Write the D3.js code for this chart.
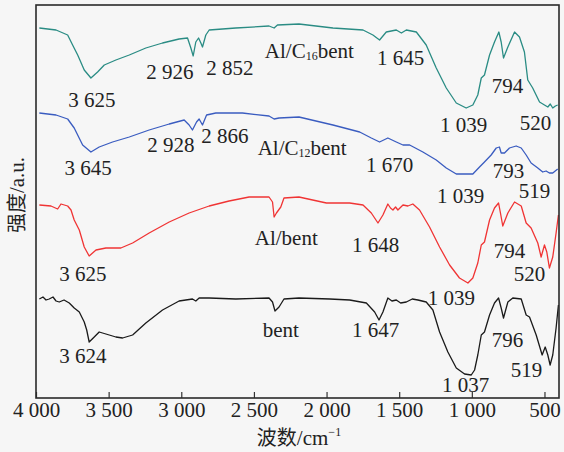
<!DOCTYPE html>
<html>
<head>
<meta charset="utf-8">
<script src="https://cdn.jsdelivr.net/npm/d3@7"></script>
<style>
  body { margin: 0; background: #f6f6f6; }
  svg { display: block; }
  svg text { font-family: "Liberation Serif", "Times New Roman", serif; fill: #222; }
</style>
</head>
<body>
<svg id="ftir_svg" width="564" height="452"></svg>
<script>
// spectra: [wavenumber (cm-1), intensity (a.u.)]
const c16bent = [
  [3977,370],[3862,368],[3782,363],[3748,353],[3713,343],[3668,328],[3622,320],[3576,326],
  [3530,333],[3450,338],[3358,343],[3244,350],[3129,355],[3015,359],[2957,360],[2934,350],
  [2918,342],[2900,356],[2881,360],[2865,355],[2854,351],[2831,363],[2808,368],[2625,370],
  [2396,372],[2361,370],[2338,373],[2190,374],[1956,370],[1749,368],[1681,363],[1635,358],
  [1589,366],[1520,368],[1485,365],[1451,368],[1382,366],[1314,353],[1245,330],[1176,310],
  [1107,295],[1039,290],[993,293],[959,303],[935,320],[913,323],[878,343],[844,356],
  [814,366],[798,356],[782,340],[752,351],[706,366],[672,361],[638,346],[615,318],
  [581,310],[534,296],[500,293],[477,291],[460,294],[443,290],[425,292],[409,293]
];
const c12bent = [
  [3977,285],[3862,283],[3782,279],[3737,270],[3679,253],[3622,246],[3565,251],[3473,256],
  [3358,261],[3221,268],[3083,274],[2980,278],[2946,273],[2923,268],[2895,276],[2877,279],
  [2854,273],[2826,283],[2762,285],[2579,285],[2396,282],[2361,279],[2327,280],[2190,281],
  [1956,273],[1772,266],[1692,260],[1635,256],[1578,260],[1520,256],[1474,253],[1428,253],
  [1337,246],[1245,238],[1176,230],[1107,224],[993,224],[947,231],[913,236],[867,243],
  [832,250],[810,251],[798,245],[775,245],[741,250],[695,252],[660,250],[626,243],
  [592,235],[546,230],[512,226],[489,227],[466,225],[443,225],[409,229]
];
const albent = [
  [3977,193],[3897,192],[3851,189],[3828,194],[3782,192],[3759,188],[3737,178],[3702,168],
  [3668,151],[3634,142],[3587,148],[3519,150],[3416,150],[3335,155],[3221,165],[3083,176],
  [2946,185],[2808,192],[2671,197],[2533,201],[2396,201],[2372,196],[2361,181],[2345,185],
  [2315,191],[2293,200],[2190,201],[2001,195],[1841,195],[1749,193],[1692,185],[1646,175],
  [1612,183],[1578,194],[1560,190],[1543,188],[1525,191],[1509,188],[1474,193],[1440,192],
  [1406,194],[1360,188],[1291,171],[1222,151],[1153,133],[1085,120],[1027,115],[993,120],
  [959,135],[935,153],[913,156],[878,178],[844,190],[816,195],[803,185],[787,172],
  [752,185],[706,196],[660,192],[626,175],[592,170],[546,155],[523,141],[500,153],
  [484,146],[466,130],[443,141],[420,165],[404,183]
];
const bent = [
  [3977,99],[3952,101],[3931,98],[3909,99],[3883,101],[3862,97],[3840,96],[3807,98],
  [3771,95],[3737,90],[3702,86],[3668,76],[3651,68],[3634,56],[3599,61],[3565,66],
  [3519,64],[3450,61],[3404,60],[3335,63],[3244,75],[3129,88],[3015,97],[2923,99],
  [2900,97],[2877,100],[2808,100],[2625,99],[2396,100],[2372,96],[2355,87],[2327,91],
  [2293,99],[2190,100],[1978,99],[1841,98],[1726,95],[1669,86],[1639,78],[1612,86],
  [1578,100],[1550,97],[1520,98],[1490,95],[1451,96],[1410,99],[1371,98],[1314,96],
  [1268,88],[1222,66],[1165,46],[1107,30],[1050,24],[1004,23],[981,28],[959,43],
  [935,63],[913,66],[878,83],[844,95],[816,100],[798,90],[782,80],[752,96],
  [718,100],[660,99],[626,83],[603,81],[557,63],[516,43],[495,51],[477,43],
  [461,33],[443,43],[420,70],[404,93]
];

const seriesColors = ["#2a8c84", "#3a5cc0", "#f03434", "#1a1a1a"];
const xTicks = [4000, 3500, 3000, 2500, 2000, 1500, 1000, 500];

// peak labels: [text, wavenumber, intensity]
const peakLabels = [
  ["3 625",3615,291],["2 926",3079,319],["2 852",2666,323],["1 645",1490,333],
  ["1 039",1057,266],["794",755,305],["520",562,268],
  ["3 645",3642,223],["2 928",3072,246],["2 866",2700,255],["1 670",1566,226],
  ["1 039",1078,195],["793",748,220],["519",569,200],
  ["3 625",3677,117],["1 648",1662,146],["1 039",1140,93],["794",741,140],["520",603,117],
  ["3 624",3677,35],["1 647",1662,61],["796",755,51],["1 037",1043,6],["519",624,21]
];
// sample names: [main, subscript, rest, wavenumber, intensity]
const sampleLabels = [
  ["Al/C", "16", "bent", 2425, 340],
  ["Al/C", "12", "bent", 2474, 243],
  ["Al/bent", "", "", 2494, 153],
  ["bent", "", "", 2439, 61]
];

const margin = { top: 5, bottom: 54, left: 36, right: 5 };
const fontSize = 21;

document.addEventListener('DOMContentLoaded', function () {
  drawChart();
});

function drawChart() {
  var svg = d3.select('#ftir_svg');
  const width = +svg.attr('width');
  const height = +svg.attr('height');
  const innerWidth = width - margin.left - margin.right;
  const innerHeight = height - margin.top - margin.bottom;

  const g = svg.append('g')
    .attr('transform', 'translate(' + margin.left + ',' + margin.top + ')');

  var x = d3.scaleLinear().domain([4000, 400]).range([0, innerWidth]);
  var y = d3.scaleLinear().domain([0, 393]).range([innerHeight, 0]);

  // curves
  const line = d3.line()
    .x(function(d) { return x(d[0]) })
    .y(function(d) { return y(d[1]) });

  [c16bent, c12bent, albent, bent].forEach(function(s, i) {
    g.append('path')
      .datum(s)
      .attr('fill', 'none')
      .attr('stroke', seriesColors[i])
      .attr('stroke-width', 1.3)
      .attr('stroke-linejoin', 'round')
      .attr('d', line);
  });

  // x axis, ticks pointing inward
  const xAxis = g.append('g')
    .attr('transform', 'translate(0,' + innerHeight + ')')
    .call(d3.axisBottom(x)
      .tickValues(xTicks)
      .tickSizeInner(-6)
      .tickSizeOuter(0)
      .tickPadding(4)
      .tickFormat(function(d) {
        return d >= 1000 ? Math.floor(d / 1000) + ' ' + d3.format('03d')(d % 1000) : d;
      }));
  xAxis.attr('font-family', null);
  xAxis.select('.domain').remove();
  xAxis.selectAll('line').attr('stroke', '#333').attr('stroke-width', 1.2);
  xAxis.selectAll('text')
    .attr('font-size', fontSize)
    .attr('fill', '#222');

  // frame
  g.append('rect')
    .attr('x', 0).attr('y', 0)
    .attr('width', innerWidth).attr('height', innerHeight)
    .attr('fill', 'none')
    .attr('stroke', '#2a2a2a')
    .attr('stroke-width', 1.6);

  // peak labels
  g.selectAll('.peak')
    .data(peakLabels)
    .enter().append('text')
    .attr('class', 'peak')
    .attr('x', function(d) { return x(d[1]) })
    .attr('y', function(d) { return y(d[2]) })
    .attr('text-anchor', 'middle')
    .attr('font-size', fontSize)
    .text(function(d) { return d[0] });

  // sample names
  sampleLabels.forEach(function(d) {
    const t = g.append('text')
      .attr('x', x(d[3]))
      .attr('y', y(d[4]))
      .attr('font-size', fontSize);
    t.append('tspan').text(d[0]);
    if (d[1]) {
      t.append('tspan').attr('font-size', 12).attr('dy', 2).text(d[1]);
      t.append('tspan').attr('dy', -2).text(d[2]);
    }
  });

  // axis labels
  const xl = svg.append('text')
    .attr('x', 299)
    .attr('y', 445)
    .attr('text-anchor', 'middle')
    .attr('font-size', fontSize);
  xl.append('tspan').style('font-family', '"Noto Sans CJK SC", sans-serif').attr('font-size', 20).text('波数');
  xl.append('tspan').text('/cm');
  xl.append('tspan').attr('font-size', 12).attr('dy', -9).text('−1');

  const yl = svg.append('text')
    .attr('transform', 'translate(24,195) rotate(-90)')
    .attr('text-anchor', 'middle')
    .attr('font-size', fontSize);
  yl.append('tspan').style('font-family', '"Noto Sans CJK SC", sans-serif').attr('font-size', 20).text('强度');
  yl.append('tspan').text('/a.u.');
}
</script>
</body>
</html>
